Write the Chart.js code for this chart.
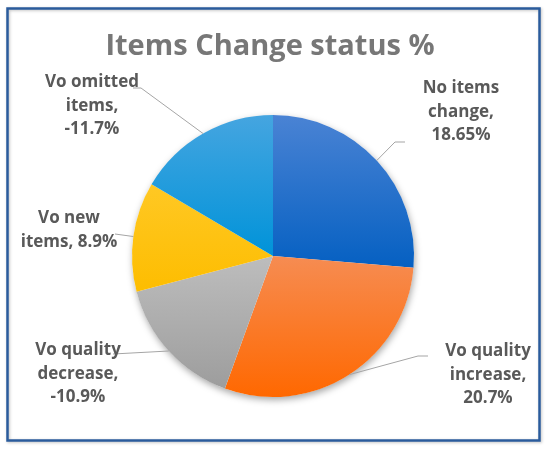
<!DOCTYPE html>
<html>
<head>
<meta charset="utf-8">
<script src="https://cdn.jsdelivr.net/npm/chart.js@4.4.1/dist/chart.umd.min.js"></script>
<style>
  html, body { margin: 0; padding: 0; background: #fff; }
</style>
</head>
<body>
<canvas id="pie" width="550" height="451"></canvas>
<script>
// data
const chartTitle = 'Items Change status %';
const categories = ['No items change', 'Vo quality increase', 'Vo quality decrease', 'Vo new items', 'Vo omitted items'];
const changePct = [18.65, 20.7, -10.9, 8.9, -11.7];

// slice colours (office style gradient, top -> bottom)
const sliceTop = ['#4a83d4', '#f68c52', '#bdbdbd', '#ffc824', '#45a5e0'];
const sliceBottom = ['#0560c2', '#ff6800', '#9d9d9d', '#fdbd00', '#0093d9'];

// where excel put the data labels (text centre / first baseline, leader elbow + tail)
const callouts = [
  { x: 461, y: 93, words: [2, 1, 1], elbow: [395, 142], tail: [405, 142] },
  { x: 488, y: 356, words: [2, 1, 1], elbow: [418, 356], tail: [428, 356] },
  { x: 78, y: 355, words: [2, 1, 1], elbow: [113, 354], tail: [113, 354] },
  { x: 69, y: 223, words: [2, 2], elbow: [115, 234], tail: [115, 234] },
  { x: 92, y: 87, words: [2, 1, 1], elbow: [141, 88], tail: [133, 88] }
];

const sizes = changePct.map(v => Math.abs(v));

function labelLines(i) {
  const words = (categories[i] + ', ' + changePct[i] + '%').split(' ');
  const lines = [];
  let k = 0;
  callouts[i].words.forEach(n => {
    lines.push(words.slice(k, k + n).join(' '));
    k += n;
  });
  return lines;
}

// vertical gradient over the slice's own height
function sliceFill(ctx) {
  const chart = ctx.chart;
  const i = ctx.dataIndex;
  const area = chart.chartArea;
  if (!area) return sliceTop[i];
  const cx = (area.left + area.right) / 2;
  const cy = (area.top + area.bottom) / 2;
  const r = Math.min(area.right - area.left, area.bottom - area.top) / 2;
  const total = sizes.reduce((a, b) => a + b, 0);
  let start = -Math.PI / 2;
  for (let j = 0; j < i; j++) start += sizes[j] / total * Math.PI * 2;
  const end = start + sizes[i] / total * Math.PI * 2;
  let minY = cy, maxY = cy;
  for (let t = 0; t <= 40; t++) {
    const a = start + (end - start) * t / 40;
    const py = cy + r * Math.sin(a);
    minY = Math.min(minY, py);
    maxY = Math.max(maxY, py);
  }
  const g = chart.ctx.createLinearGradient(0, minY, 0, maxY);
  g.addColorStop(0, sliceTop[i]);
  g.addColorStop(1, sliceBottom[i]);
  return g;
}

const frameAndCallouts = {
  id: 'frameAndCallouts',
  beforeDatasetsDraw(chart) {
    const ctx = chart.ctx;
    const arc = chart.getDatasetMeta(0).data[0];
    ctx.save();
    ctx.shadowColor = 'rgba(0,0,0,0.35)';
    ctx.shadowBlur = 7;
    ctx.shadowOffsetX = 1;
    ctx.shadowOffsetY = 3;
    ctx.fillStyle = '#ffffff';
    ctx.beginPath();
    ctx.arc(arc.x, arc.y, arc.outerRadius, 0, Math.PI * 2);
    ctx.fill();
    ctx.restore();
  },
  afterDraw(chart) {
    const ctx = chart.ctx;
    ctx.save();
    // outer frame
    ctx.shadowColor = 'rgba(0,0,0,0.25)';
    ctx.shadowBlur = 3;
    ctx.shadowOffsetX = 1;
    ctx.shadowOffsetY = 1;
    ctx.strokeStyle = '#2a5b9c';
    ctx.lineWidth = 2.5;
    ctx.strokeRect(7.5, 8.5, 532, 432);
    ctx.restore();

    // title (drawn here so it is not squeezed into the pie width)
    ctx.save();
    ctx.fillStyle = '#777777';
    ctx.font = 'bold 29px "Open Sans"';
    ctx.textAlign = 'center';
    ctx.textBaseline = 'alphabetic';
    ctx.fillText(chartTitle, 270, 55);
    ctx.restore();

    ctx.save();
    const arcs = chart.getDatasetMeta(0).data;
    ctx.strokeStyle = '#a5a5a5';
    ctx.lineWidth = 1;
    arcs.forEach((arc, i) => {
      const mid = (arc.startAngle + arc.endAngle) / 2;
      const ex = arc.x + arc.outerRadius * Math.cos(mid);
      const ey = arc.y + arc.outerRadius * Math.sin(mid);
      const c = callouts[i];
      ctx.beginPath();
      ctx.moveTo(ex, ey);
      ctx.lineTo(c.elbow[0], c.elbow[1]);
      ctx.lineTo(c.tail[0], c.tail[1]);
      ctx.stroke();
    });
    ctx.fillStyle = '#595959';
    ctx.font = 'bold 17px "Open Sans"';
    ctx.textAlign = 'center';
    ctx.textBaseline = 'alphabetic';
    arcs.forEach((arc, i) => {
      const c = callouts[i];
      labelLines(i).forEach((line, k) => {
        ctx.fillText(line, c.x, c.y + k * 23.5);
      });
    });
    ctx.restore();
  }
};

new Chart(document.getElementById('pie'), {
  type: 'pie',
  data: {
    labels: categories,
    datasets: [{
      data: sizes,
      backgroundColor: sliceFill,
      borderWidth: 0,
      hoverOffset: 0
    }]
  },
  options: {
    responsive: false,
    animation: false,
    devicePixelRatio: 1,
    events: [],
    layout: { padding: { left: 132, right: 136, top: 115, bottom: 54 } },
    plugins: {
      legend: { display: false },
      tooltip: { enabled: false },
      title: { display: false }
    }
  },
  plugins: [frameAndCallouts]
});
</script>
</body>
</html>
